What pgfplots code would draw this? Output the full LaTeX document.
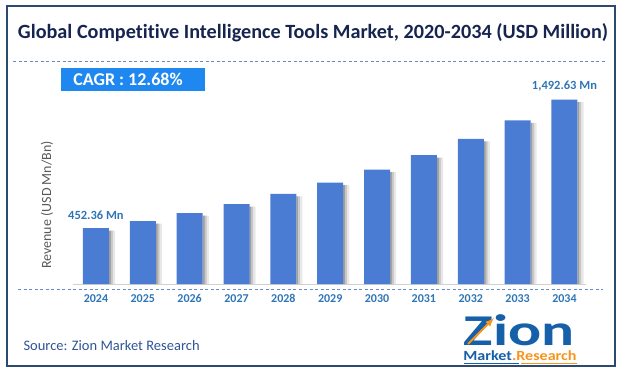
\documentclass[border=0pt]{standalone}
\usepackage{fontspec}
\setmainfont{Carlito}[Ligatures={NoCommon}]
\usepackage{pgfplots}
\pgfplotsset{compat=1.18}
\usepackage{pgfplotstable}
\definecolor{barblue}{RGB}{74,124,212}
\definecolor{labblue}{RGB}{46,117,182}
\definecolor{titlenavy}{RGB}{22,36,80}
\definecolor{framecol}{RGB}{44,74,110}
\definecolor{cagrblue}{RGB}{30,136,240}
\definecolor{dashblue}{RGB}{100,140,205}
\definecolor{zionblue}{RGB}{21,96,168}
\definecolor{zionorange}{RGB}{247,148,29}
\definecolor{srcblue}{RGB}{47,85,151}

\pgfplotstableread{
x year value label
0 2024 452.36 {452.36 Mn}
1 2025 509.70 {}
2 2026 574.30 {}
3 2027 647.20 {}
4 2028 729.20 {}
5 2029 821.70 {}
6 2030 925.90 {}
7 2031 1043.30 {}
8 2032 1175.60 {}
9 2033 1324.70 {}
10 2034 1492.63 {1,492.63 Mn}
}\datatable

\begin{document}
\begin{tikzpicture}[x=1pt,y=1pt]
\useasboundingbox (0,0) rectangle (621,373);
\begin{axis}[
  at={(73pt,89pt)}, anchor=south west,
  scale only axis, width=513pt, height=200pt,
  xmin=-0.49, xmax=10.46, ymin=0, ymax=1620,
  axis y line=none, axis x line*=bottom,
  x axis line style={black!18, line width=1pt},
  xtick={0,...,10},
  xticklabels={2024,2025,2026,2027,2028,2029,2030,2031,2032,2033,2034},
  major tick length=0pt,
  /pgf/number format/assume math mode=true,
  xticklabel style={font=\bfseries\fontsize{12}{12}\selectfont, text=labblue, yshift=-7pt},
  ybar, bar width=26pt,
  clip=false,
]
\addplot[ybar, bar width=2.2pt, bar shift=14pt, draw=none, fill=black!38, forget plot]
  table[x=x, y expr=\thisrow{value}-20] {\datatable};
\addplot[ybar, bar width=2.2pt, bar shift=16pt, draw=none, fill=black!22, forget plot]
  table[x=x, y expr=\thisrow{value}-20] {\datatable};
\addplot[ybar, bar width=2.2pt, bar shift=18pt, draw=none, fill=black!9, forget plot]
  table[x=x, y expr=\thisrow{value}-20] {\datatable};
\addplot[ybar, bar width=26pt, bar shift=0pt, fill=barblue, draw=none,
  point meta=explicit symbolic,
  nodes near coords={\pgfplotspointmeta},
  nodes near coords style={font=\bfseries\fontsize{12.5}{12.5}\selectfont, text=labblue, yshift=5pt}]
  table[x=x, y=value, meta=label] {\datatable};
\end{axis}
% frame
\draw[framecol, line width=1.5pt] (7,7) rectangle (615,367);
% title
\node[font=\bfseries\fontsize{20.2}{21}\selectfont, text=titlenavy] at (313,340) {Global Competitive Intelligence Tools Market, 2020-2034 (USD Million)};
\draw[dashblue, line width=0.8pt, dash pattern=on 3pt off 2.5pt] (13,312) -- (606,312);
% CAGR
\fill[cagrblue] (61,282) rectangle (205,305);
\node[text=white, font=\bfseries\fontsize{18}{18}\selectfont] at (128,293.5) {CAGR : 12.68\%};
% y label
\node[rotate=90, text=black!65, font=\fontsize{14}{14}\selectfont] at (47,168) {Revenue (USD Mn/Bn)};
% axis dashed line
\draw[dashblue, line width=0.8pt, dash pattern=on 3pt off 2.5pt] (18,84) -- (603,84);
% source
\node[anchor=west, text=srcblue, font=\fontsize{14.5}{15}\selectfont] at (20,27) {Source: Zion Market Research};
% logo
\node[anchor=base, inner sep=0pt, text=zionblue, font=\bfseries\fontsize{44}{44}\selectfont, xscale=1.4] at (519,28) {Zion};
\draw[zionorange, line width=2pt, -latex] (468,29) -- (494,55);
\node[anchor=base, inner sep=0pt, font=\bfseries\fontsize{14}{14}\selectfont, xscale=1.15] at (520,13) {\textcolor{zionblue}{Market}\textcolor{zionorange}{.Research}};
\draw[zionblue, line width=0.6pt] (464,10) -- (519,10);
\draw[zionorange, line width=0.6pt] (521,10) -- (577,10);
\end{tikzpicture}
\end{document}
